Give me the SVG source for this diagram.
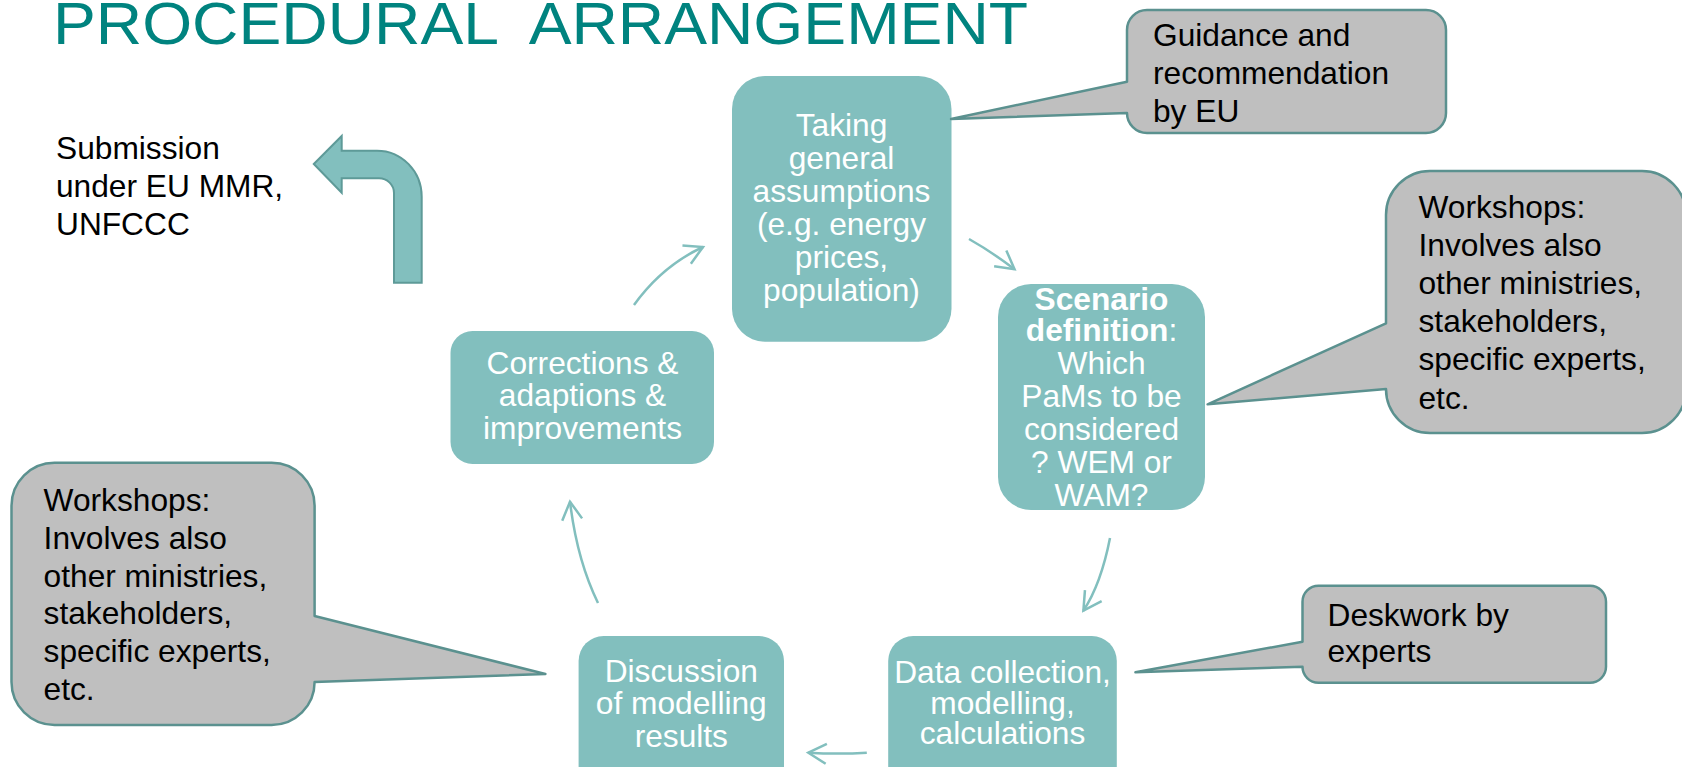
<svg xmlns="http://www.w3.org/2000/svg" width="1682" height="767" viewBox="0 0 1682 767">
<style>
text{font-family:"Liberation Sans",Arial,sans-serif;font-size:31.7px}
.box{fill:#82BFBE}
.wt{fill:#FFFFFF;text-anchor:middle}
.bk{fill:#000000}
.call{fill:#BFBFBF;stroke:#5B918F;stroke-width:2.5;stroke-linejoin:round}
.con{fill:none;stroke:#82BFBE;stroke-width:2.5}
.title{font-size:60px;fill:#00837F;white-space:pre}
</style>
<defs>
<marker id="ah" markerWidth="26" markerHeight="26" refX="20" refY="12" orient="auto" markerUnits="userSpaceOnUse">
<path d="M2,2 L20,12 L2,22" fill="none" stroke="#82BFBE" stroke-width="2.5"/>
</marker>
</defs>

<g id="title"><text class="title" x="53" y="44" textLength="975" lengthAdjust="spacingAndGlyphs">PROCEDURAL  ARRANGEMENT</text></g>

<g id="submission">
<text class="bk" x="56" y="159">Submission</text>
<text class="bk" x="56" y="197">under EU MMR,</text>
<text class="bk" x="56" y="235">UNFCCC</text>
</g>

<g id="bent-arrow">
<path d="M313.8,164 L341.7,136 V150.7 H377 A44.7,46 0 0 1 421.7,196.7 V282.7 H394 V193 A15,14.7 0 0 0 379,178.3 H341.7 V192.7 Z" fill="#82BFBE" stroke="#5E9A98" stroke-width="2"/>
</g>

<g id="connectors">
<path class="con" marker-end="url(#ah)" d="M634,305 Q662,266 703,247"/>
<path class="con" marker-end="url(#ah)" d="M969,239 Q992,252 1014.5,269.3"/>
<path class="con" marker-end="url(#ah)" d="M1110,538 Q1101,584 1083.4,610.7"/>
<path class="con" marker-end="url(#ah)" d="M866.8,752.7 Q838,754.5 808.3,752.7"/>
<path class="con" marker-end="url(#ah)" d="M598,603 Q577,560 570,501.7"/>
</g>

<g id="node-taking">
<rect class="box" x="732" y="76" width="219.5" height="265.7" rx="33"/>
<text class="wt" x="841.5" y="135.5">Taking</text>
<text class="wt" x="841.5" y="168.5">general</text>
<text class="wt" x="841.5" y="201.5">assumptions</text>
<text class="wt" x="841.5" y="234.5">(e.g. energy</text>
<text class="wt" x="841.5" y="267.5">prices,</text>
<text class="wt" x="841.5" y="300.5">population)</text>
</g>

<g id="node-scenario">
<rect class="box" x="998" y="284" width="207" height="226" rx="33"/>
<text class="wt" x="1101.5" y="309.5" font-weight="bold">Scenario</text>
<text class="wt" x="1101.5" y="341"><tspan font-weight="bold">definition</tspan>:</text>
<text class="wt" x="1101.5" y="373.5">Which</text>
<text class="wt" x="1101.5" y="406.5">PaMs to be</text>
<text class="wt" x="1101.5" y="440">considered</text>
<text class="wt" x="1101.5" y="473">? WEM or</text>
<text class="wt" x="1101.5" y="506">WAM?</text>
</g>

<g id="node-corrections">
<rect class="box" x="450.5" y="331" width="263.5" height="133" rx="22"/>
<text class="wt" x="582.5" y="373.5">Corrections &amp;</text>
<text class="wt" x="582.5" y="406">adaptions &amp;</text>
<text class="wt" x="582.5" y="439">improvements</text>
</g>

<g id="node-discussion">
<rect class="box" x="578.6" y="636" width="205.4" height="160" rx="25"/>
<text class="wt" x="681.3" y="681.5">Discussion</text>
<text class="wt" x="681.3" y="714">of modelling</text>
<text class="wt" x="681.3" y="746.5">results</text>
</g>

<g id="node-data">
<rect class="box" x="888.2" y="636" width="228.6" height="160" rx="25"/>
<text class="wt" x="1002.5" y="683" font-size="29">Data collection,</text>
<text class="wt" x="1002.5" y="714" font-size="29">modelling,</text>
<text class="wt" x="1002.5" y="744" font-size="29">calculations</text>
</g>

<g id="callout-guidance">
<path class="call" d="M1147,10 H1426 A20,20 0 0 1 1446,30 V113 A20,20 0 0 1 1426,133 H1147 A20,20 0 0 1 1127,113 L951,119 L1127,81.7 V30 A20,20 0 0 1 1147,10 Z"/>
<text class="bk" x="1153" y="46">Guidance and</text>
<text class="bk" x="1153" y="84">recommendation</text>
<text class="bk" x="1153" y="122">by EU</text>
</g>

<g id="callout-workshops-right">
<path class="call" d="M1430,171 H1642 A44,44 0 0 1 1686,215 V389 A44,44 0 0 1 1642,433 H1430 A44,44 0 0 1 1386,389 L1207.6,404.3 L1386,323.3 V215 A44,44 0 0 1 1430,171 Z"/>
<text class="bk" x="1418.5" y="218.3">Workshops:</text>
<text class="bk" x="1418.5" y="256.3">Involves also</text>
<text class="bk" x="1418.5" y="294.3">other ministries,</text>
<text class="bk" x="1418.5" y="332.3">stakeholders,</text>
<text class="bk" x="1418.5" y="370.3">specific experts,</text>
<text class="bk" x="1418.5" y="409">etc.</text>
</g>

<g id="callout-workshops-left">
<path class="call" d="M54.5,462.7 H271.6 A43,43 0 0 1 314.6,505.7 V616 L545.4,674 L314.6,682 A43,43 0 0 1 271.6,725 H54.5 A43,43 0 0 1 11.5,682 V505.7 A43,43 0 0 1 54.5,462.7 Z"/>
<text class="bk" x="43.6" y="510.5">Workshops:</text>
<text class="bk" x="43.6" y="548.5">Involves also</text>
<text class="bk" x="43.6" y="586.5">other ministries,</text>
<text class="bk" x="43.6" y="624">stakeholders,</text>
<text class="bk" x="43.6" y="661.5">specific experts,</text>
<text class="bk" x="43.6" y="699.8">etc.</text>
</g>

<g id="callout-deskwork">
<path class="call" d="M1318.5,585.7 H1590 A16,16 0 0 1 1606,601.7 V666.7 A16,16 0 0 1 1590,682.7 H1318.5 A16,16 0 0 1 1302.5,666.7 L1135.4,672.3 L1302.5,641.7 V601.7 A16,16 0 0 1 1318.5,585.7 Z"/>
<text class="bk" x="1327.5" y="626">Deskwork by</text>
<text class="bk" x="1327.5" y="662">experts</text>
</g>
</svg>
